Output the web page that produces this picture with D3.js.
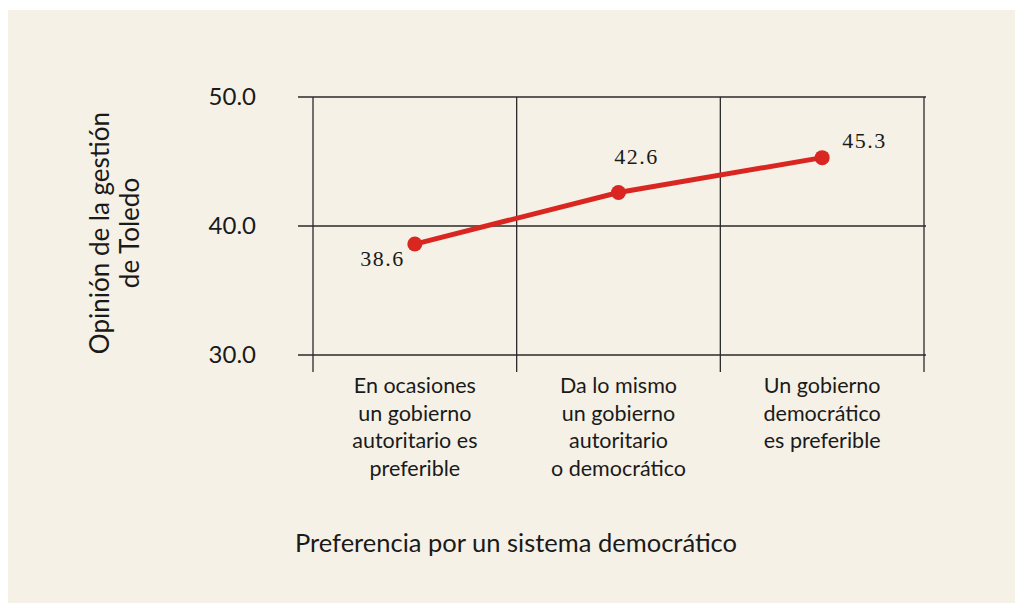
<!DOCTYPE html>
<html>
<head>
<meta charset="utf-8">
<script src="https://cdn.jsdelivr.net/npm/d3@7"></script>
<style>
  body { margin: 0; background: #fff; }
  svg text { font-family: Lato, "Noto Sans", sans-serif; fill: #1a1a1a; }
</style>
</head>
<body>
<div class="chart"></div>
<script>
// data
var categories = [
    ["En ocasiones", "un gobierno", "autoritario es", "preferible"],
    ["Da lo mismo", "un gobierno", "autoritario", "o democrático"],
    ["Un gobierno", "democrático", "es preferible"]
];
var values = [38.6, 42.6, 45.3];
var yTicks = [30, 40, 50];
var yTitle = ["Opinión de la gestión", "de Toledo"];
var xTitle = "Preferencia por un sistema democrático";

var width = 1015,
    height = 603;

var svg = d3.select('.chart')
    .append('svg')
    .attr('width', width)
    .attr('height', height);

// beige panel
svg.append('rect')
    .attr('x', 8).attr('y', 10)
    .attr('width', width - 8).attr('height', height - 10)
    .attr('fill', '#f5f1e7');

var plotLeft = 313, plotRight = 924, plotTop = 97, plotBottom = 355;

var x = d3.scaleBand()
    .domain(d3.range(categories.length))
    .range([plotLeft, plotRight]);

var y = d3.scaleLinear()
    .domain([30, 50])
    .range([plotBottom, plotTop]);

var grid = svg.append('g').attr('stroke', '#2a2a2a').attr('stroke-width', 1.3);

// horizontal grid lines
grid.selectAll('line.h')
    .data(yTicks)
    .enter().append('line')
    .attr('class', 'h')
    .attr('x1', plotLeft - 15).attr('x2', plotRight + 2)
    .attr('y1', function(d) { return y(d); })
    .attr('y2', function(d) { return y(d); });

// vertical lines at band edges
var edges = x.domain().map(function(i) { return x(i); }).concat([plotRight]);
grid.selectAll('line.v')
    .data(edges)
    .enter().append('line')
    .attr('class', 'v')
    .attr('x1', function(d) { return d; }).attr('x2', function(d) { return d; })
    .attr('y1', plotTop).attr('y2', plotBottom + 17);

// y tick labels
svg.selectAll('text.ytick')
    .data(yTicks)
    .enter().append('text')
    .attr('class', 'ytick')
    .attr('x', 256)
    .attr('y', function(d) { return y(d); })
    .attr('dy', '0.35em')
    .attr('text-anchor', 'end')
    .style('font-size', '24px')
    .text(function(d) { return d.toFixed(1); });

// category labels
var cat = svg.selectAll('text.cat')
    .data(categories)
    .enter().append('text')
    .attr('class', 'cat')
    .attr('text-anchor', 'middle')
    .style('font-size', '21.5px');

cat.selectAll('tspan')
    .data(function(d, i) { return d.map(function(s) { return { s: s, i: i }; }); })
    .enter().append('tspan')
    .attr('x', function(d) { return x(d.i) + x.bandwidth() / 2; })
    .attr('y', function(d, j) { return 393 + j * 27.5; })
    .text(function(d) { return d.s; });

// y title
var yt = svg.append('text')
    .attr('transform', 'translate(109,233) rotate(-90)')
    .attr('text-anchor', 'middle')
    .style('font-size', '26px');
yt.selectAll('tspan')
    .data(yTitle)
    .enter().append('tspan')
    .attr('x', 0)
    .attr('y', function(d, i) { return i * 30; })
    .text(function(d) { return d; });

// x title
svg.append('text')
    .attr('x', 516)
    .attr('y', 552)
    .attr('text-anchor', 'middle')
    .style('font-size', '25.5px')
    .text(xTitle);

// line
var line = d3.line()
    .x(function(d, i) { return x(i) + x.bandwidth() / 2; })
    .y(function(d) { return y(d); });

svg.append('path')
    .datum(values)
    .attr('d', line)
    .attr('fill', 'none')
    .attr('stroke', '#da2620')
    .attr('stroke-width', 5);

svg.selectAll('circle.pt')
    .data(values)
    .enter().append('circle')
    .attr('class', 'pt')
    .attr('cx', function(d, i) { return x(i) + x.bandwidth() / 2; })
    .attr('cy', function(d) { return y(d); })
    .attr('r', 7.5)
    .attr('fill', '#da2620');

// value labels
var labelOffsets = [[-10, 22, 'end'], [18, -28, 'middle'], [20, -10, 'start']];
svg.selectAll('text.val')
    .data(values)
    .enter().append('text')
    .attr('class', 'val')
    .attr('x', function(d, i) { return x(i) + x.bandwidth() / 2 + labelOffsets[i][0]; })
    .attr('y', function(d, i) { return y(d) + labelOffsets[i][1]; })
    .attr('text-anchor', function(d, i) { return labelOffsets[i][2]; })
    .style('font-family', '"Liberation Serif", serif')
    .style('font-size', '22px')
    .style('letter-spacing', '1.5px')
    .text(function(d) { return d.toFixed(1); });
</script>
</body>
</html>
